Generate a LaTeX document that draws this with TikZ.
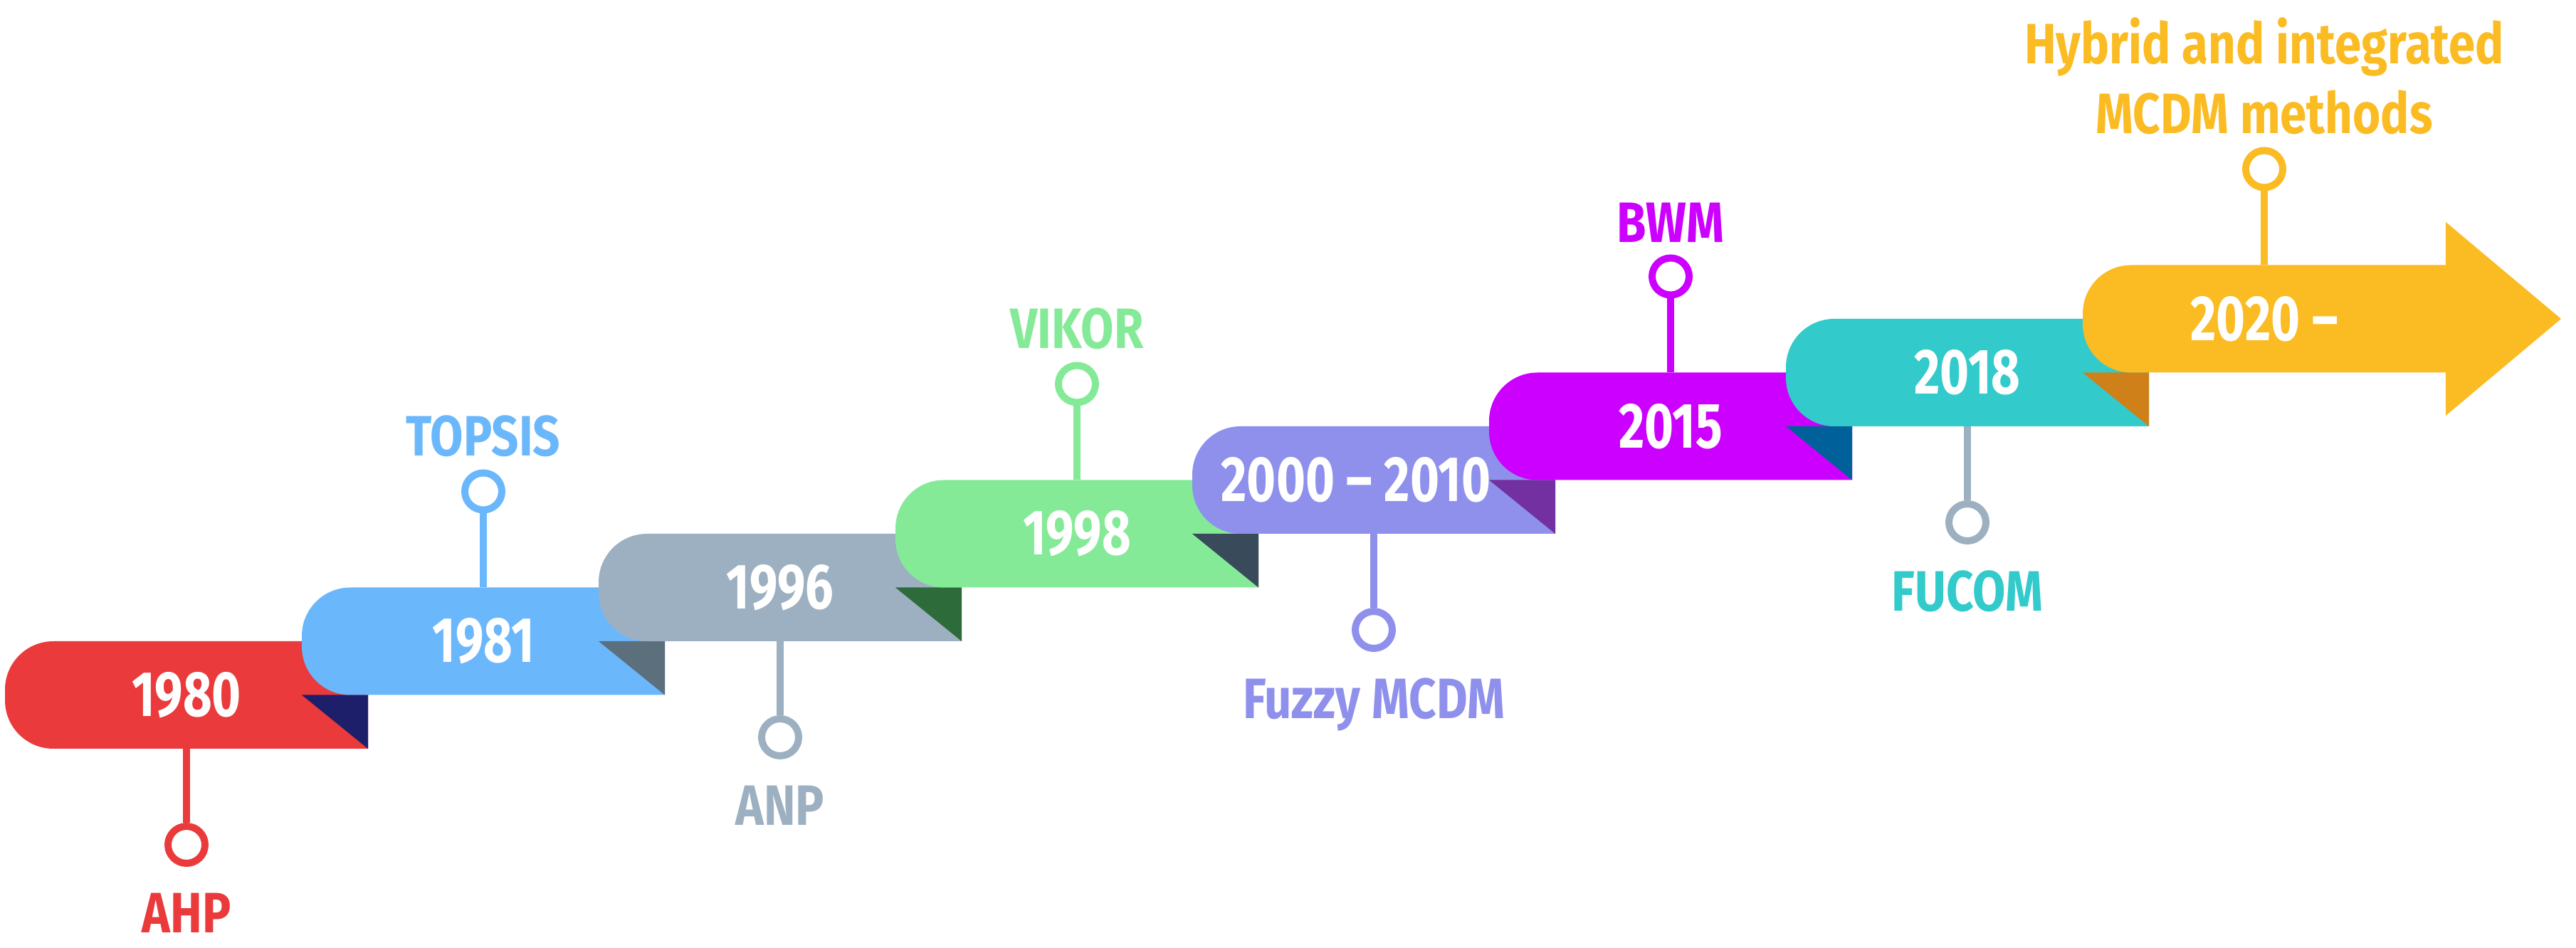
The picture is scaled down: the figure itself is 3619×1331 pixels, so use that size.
\documentclass[tikz,border=0pt]{standalone}
\usepackage{fontspec}
\setmainfont{Fira Sans}[FakeStretch=0.78]
\newfontfamily\methodfont{Fira Sans}[FakeStretch=0.84]
\usetikzlibrary{positioning}

\definecolor{cred}{HTML}{EA3A3B}
\definecolor{cblue}{HTML}{6BB7FB}
\definecolor{cgray}{HTML}{9DB0C1}
\definecolor{cgreen}{HTML}{85EA98}
\definecolor{cperi}{HTML}{8E90EC}
\definecolor{cmag}{HTML}{CC00FF}
\definecolor{ccyan}{HTML}{32CACA}
\definecolor{cyel}{HTML}{FBBB22}
\definecolor{dnavy}{HTML}{1E1F6A}
\definecolor{dslate}{HTML}{5C6F7C}
\definecolor{dgreen}{HTML}{2E6B3B}
\definecolor{ddslate}{HTML}{394A5A}
\definecolor{dpurple}{HTML}{7230A0}
\definecolor{dteal}{HTML}{00609A}
\definecolor{dorange}{HTML}{D08018}

\tikzset{
  yearlbl/.style={text=white, inner sep=0pt, font=\fontsize{90}{90}\selectfont\bfseries},
  pin/.style={circle, draw=#1, fill=white, line width=10pt, minimum size=52pt, inner sep=0pt},
  stemline/.style={draw=#1, line width=10pt},
  method/.style={text=#1, inner sep=0pt, align=center, font=\methodfont\fontsize{80}{98}\selectfont\bfseries}
}

\begin{document}
\begin{tikzpicture}[x=1pt, y=1pt]
  \useasboundingbox (0,0) rectangle (3619,1331);

  % ribbon pieces, each one folded under the next
  \foreach \i/\col/\dk/\dx/\yr in {0/cred/dnavy/0/1980, 1/cblue/dslate/0/1981, 2/cgray/dgreen/0/1996,
      3/cgreen/ddslate/0/1998, 4/cperi/dpurple/-25/2000 -- 2010, 5/cmag/dteal/0/2015, 6/ccyan/dorange/0/2018} {
    \pgfmathsetmacro\L{7+417*\i}
    \pgfmathsetmacro\R{\L+510}
    \pgfmathsetmacro\B{279+75.5*\i}
    \pgfmathsetmacro\T{\B+151}
    \fill[\col] (\R,\B) -- (\L+68,\B) arc[start angle=270, end angle=180, radius=68pt]
      -- (\L,\T-68) arc[start angle=180, end angle=90, radius=68pt] -- (\R,\T) -- cycle;
    \fill[\dk] (\L+417,\B+75.5) -- (\R,\B+75.5) -- (\R,\B) -- cycle;
    \node[yearlbl] (y\i) at (\L+255+\dx,\B+75.5) {\yr};
    \coordinate (top\i) at (\L+255,\T);
    \coordinate (bot\i) at (\L+255,\B);
  }

  % last piece is the arrow
  \fill[cyel] (3436,807.5) -- (2994,807.5) arc[start angle=270, end angle=180, radius=68pt]
    -- (2926,890.5) arc[start angle=180, end angle=90, radius=68pt] -- (3436,958.5)
    -- (3436,1019) -- (3598,883) -- (3436,747) -- cycle;
  \node[yearlbl] (y7) at (3181,883) {2020 --};
  \coordinate (top7) at (3181,958.5);

  % methods above the ribbon
  \foreach \i/\col/\lab in {1/cblue/TOPSIS, 3/cgreen/VIKOR, 5/cmag/BWM,
      7/cyel/{Hybrid and integrated\\MCDM methods}} {
    \node[pin=\col, above=104pt of top\i] (c\i) {};
    \draw[stemline=\col] (top\i) -- (c\i);
    \node[method=\col, anchor=south, above=17pt of c\i] (m\i) {\lab};
  }

  % methods below the ribbon
  \foreach \i/\col/\stm/\lab in {0/cred/cred/AHP, 2/cgray/cgray/ANP,
      4/cperi/cperi/Fuzzy MCDM, 6/ccyan/cgray/FUCOM} {
    \node[pin=\stm, below=104pt of bot\i] (c\i) {};
    \draw[stemline=\stm] (bot\i) -- (c\i);
    \node[method=\col, below=37pt of c\i] (m\i) {\lab};
  }
\end{tikzpicture}
\end{document}
